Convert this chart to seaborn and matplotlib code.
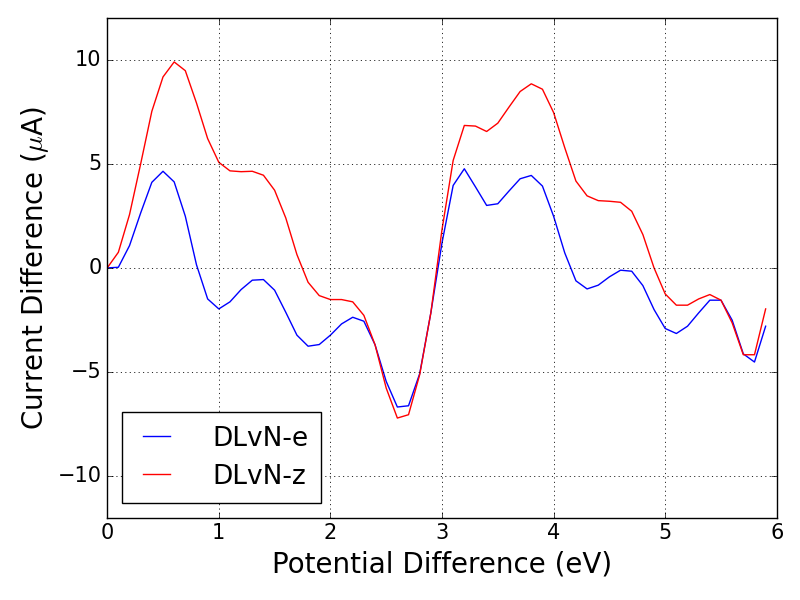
import numpy as np
import pandas as pd
import matplotlib
matplotlib.use("Agg")
import matplotlib.pyplot as plt
import seaborn as sns

plt.style.use("classic")
plt.rcParams["lines.scale_dashes"] = False

# potential steps (eV)
potential = [round(0.1 * i, 1) for i in range(60)]

# DLvN-e current difference (uA)
dlvn_e = [0.0, 0.03, 1.07, 2.64, 4.11, 4.64, 4.13, 2.48, 0.15, -1.49,
          -1.97, -1.63, -1.04, -0.59, -0.56, -1.07, -2.13, -3.23, -3.76, -3.68,
          -3.23, -2.69, -2.37, -2.56, -3.69, -5.45, -6.68, -6.62, -5.08, -2.16,
          1.2, 3.96, 4.76, 3.89, 3.0, 3.08, 3.69, 4.28, 4.44, 3.93,
          2.48, 0.72, -0.62, -1.01, -0.83, -0.43, -0.11, -0.16, -0.85, -2.0,
          -2.91, -3.15, -2.8, -2.16, -1.55, -1.55, -2.51, -4.13, -4.52, -2.8]

# DLvN-z current difference (uA)
dlvn_z = [0.0, 0.75, 2.56, 5.0, 7.52, 9.17, 9.89, 9.47, 7.92, 6.21,
          5.07, 4.66, 4.62, 4.64, 4.45, 3.73, 2.4, 0.64, -0.69, -1.33,
          -1.52, -1.52, -1.63, -2.28, -3.69, -5.77, -7.21, -7.05, -5.13, -2.16,
          1.84, 5.16, 6.84, 6.81, 6.55, 6.95, 7.72, 8.47, 8.84, 8.58,
          7.46, 5.77, 4.17, 3.46, 3.23, 3.2, 3.15, 2.72, 1.6, 0.0,
          -1.25, -1.79, -1.79, -1.49, -1.28, -1.55, -2.64, -4.17, -4.17, -1.97]

df = pd.DataFrame({
    "potential": potential * 2,
    "current": dlvn_e + dlvn_z,
    "series": ["DLvN-e"] * len(potential) + ["DLvN-z"] * len(potential),
})

fig, ax = plt.subplots(figsize=(8, 6), dpi=100)
fig.subplots_adjust(left=0.134, right=0.971, top=0.97, bottom=0.137)

sns.lineplot(data=df, x="potential", y="current", hue="series",
             palette={"DLvN-e": "blue", "DLvN-z": "red"}, linewidth=1,
             ax=ax, legend=True)

ax.set_xlim(0, 6)
ax.set_ylim(-12, 12)
ax.set_xticks(range(0, 7))
ax.set_yticks([-10, -5, 0, 5, 10])
ax.grid(True, color="black", linestyle=(0, (0.8, 2.4)), linewidth=0.6)
ax.tick_params(labelsize=15)
ax.set_xlabel("Potential Difference (eV)", fontsize=20)
ax.set_ylabel(r"Current Difference ($\mu$A)", fontsize=20)

leg = ax.legend(loc="lower left", fontsize=19, frameon=True, fancybox=False,
                borderaxespad=0.57, borderpad=0.5, labelspacing=0.45,
                handlelength=1.6, handletextpad=1.3)
leg.get_frame().set_edgecolor("black")

fig.savefig("out.png", dpi=100)
